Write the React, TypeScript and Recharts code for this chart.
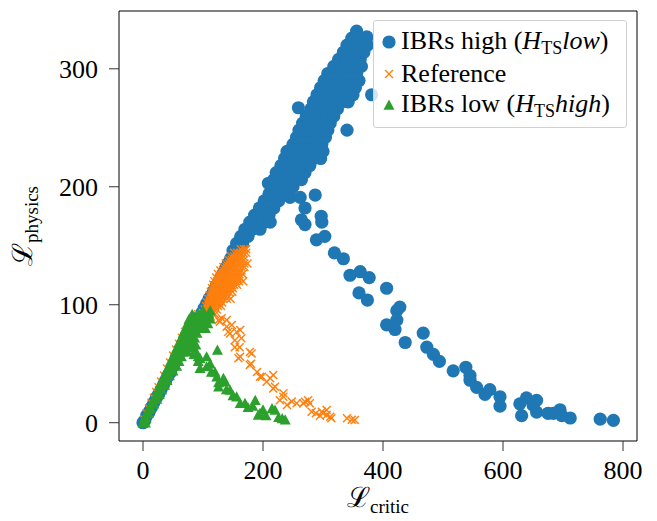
import React from 'react';
import { ScatterChart, Scatter, XAxis, YAxis, ReferenceArea } from 'recharts';

const FONT = '"Liberation Serif", "Times New Roman", Times, serif';
const BLUE = '#1f77b4';
const ORANGE = '#ff7f0e';
const GREEN = '#2ca02c';

const xTicks = [0, 200, 400, 600, 800];
const yTicks = [0, 100, 200, 300];
const xDomain: [number, number] = [-40, 823.3];
const yDomain: [number, number] = [-15.5, 349];

const seriesNames = ['IBRs high', 'Reference', 'IBRs low'];

// IBRs high: lower narrow band [x, y]
const blueLow: [number, number][] = [
  [0, 0], [3, 2], [6, 6], [10, 9], [14, 13], [18, 17], [22, 21], [26, 24], [30, 28], [34, 32],
  [38, 36], [42, 40], [46, 43], [50, 48], [54, 52], [58, 56], [62, 60], [66, 63], [70, 67], [74, 71],
  [78, 75], [82, 78], [86, 82], [90, 86], [94, 90], [98, 93], [102, 97], [106, 101], [110, 105], [114, 108],
  [118, 112], [122, 116], [126, 119], [130, 123], [134, 127], [138, 131], [142, 135], [146, 139], [150, 142],
];
// IBRs high: upper wide band, rows of [y, x values]
const blueBandRows: [number, number[]][] = [
  [146, [150, 158]], [152, [156, 166]], [158, [163, 175]], [164, [170, 182, 195]],
  [170, [178, 190, 202, 212]], [176, [186, 198, 210]], [182, [194, 206, 218]], [188, [202, 214, 226]],
  [194, [210, 222, 234]], [200, [214, 226, 238, 250]], [206, [218, 230, 242, 254, 264]],
  [212, [222, 234, 246, 258, 270]], [218, [230, 242, 254, 266, 278]], [224, [236, 248, 260, 272, 284, 296]],
  [230, [240, 252, 264, 276, 288, 300]], [236, [250, 262, 274, 286, 298]], [242, [256, 268, 280, 292, 304]],
  [248, [260, 272, 284, 296, 308]], [254, [266, 278, 290, 302, 312]], [260, [272, 284, 296, 308, 318]],
  [266, [280, 292, 304, 316, 324]], [272, [284, 296, 308, 320, 332, 342]], [278, [290, 302, 314, 326, 338, 350]],
  [284, [296, 308, 320, 332, 344, 354]], [290, [302, 314, 326, 338, 350, 360]], [296, [308, 320, 332, 344, 356]],
  [302, [318, 330, 342, 354, 364]], [308, [326, 338, 350, 362]], [314, [334, 346, 358, 368]],
  [320, [340, 352, 364, 374]], [326, [348, 360, 372]], [332, [356]],
];
// IBRs high: outliers and descending tail [x, y]
const blueTail: [number, number][] = [
  [259, 267], [340, 248], [381, 278], [373, 327], [209, 203],
  [245, 191], [262, 191], [287, 193], [270, 182], [270, 168], [264, 172], [297, 175], [298, 170],
  [289, 155], [303, 158], [319, 144], [334, 139], [345, 125], [362, 128], [377, 123], [360, 110],
  [374, 104], [406, 114], [423, 95], [428, 98], [423, 87], [406, 83], [420, 79], [437, 68],
  [467, 76], [473, 64], [484, 58], [494, 52], [517, 44], [538, 47], [545, 40], [545, 36],
  [556, 30], [570, 24], [578, 28], [595, 22], [595, 14], [628, 16], [631, 6], [639, 21],
  [650, 15], [656, 19], [656, 9], [675, 8], [684, 8], [695, 11], [698, 6], [712, 4],
  [762, 3], [784, 2],
];

// Reference: lower line and dense cluster
const orangeLow: [number, number][] = [
  [2, 3], [6, 8], [10, 12], [14, 17], [18, 21], [22, 26], [26, 30], [30, 35], [35, 40], [40, 46],
  [45, 51], [50, 57], [55, 62], [60, 67], [65, 72], [70, 77], [75, 81], [80, 85], [86, 89], [92, 92],
];
const orangeBandRows: [number, number[]][] = [
  [147, [163, 168, 172]],
  [144, [152, 157, 162, 167, 172]],
  [141, [147, 152, 157, 162, 167]],
  [138, [143, 148, 153, 158, 163, 168]],
  [135, [138, 143, 148, 153, 158, 163, 169, 174]],
  [132, [134, 139, 144, 149, 154, 159, 164, 169]],
  [129, [129, 134, 139, 144, 149, 154, 159, 164]],
  [126, [125, 130, 135, 140, 145, 150, 155, 160, 166]],
  [123, [122, 127, 132, 137, 142, 147, 152, 157, 162]],
  [120, [119, 124, 129, 134, 139, 144, 149, 154, 160, 167]],
  [117, [117, 122, 127, 132, 137, 142, 147, 152, 157]],
  [114, [115, 120, 125, 130, 135, 140, 145, 150]],
  [111, [113, 118, 123, 128, 133, 138, 143, 149]],
  [108, [111, 116, 121, 126, 131, 136, 141]],
  [105, [109, 114, 119, 124, 129, 134, 140, 146]],
  [102, [107, 112, 117, 122, 127, 132]],
  [99, [105, 110, 115, 120, 125, 130]],
  [96, [103, 108, 113, 118, 123]],
  [93, [100, 105, 110, 115]],
  [90, [98, 103, 108, 113]],
];
const orangeTail: [number, number][] = [
  [353, 2.3], [348, 2.5], [340, 3.7], [314, 3.7], [312, 5], [306, 6.5], [300, 8], [298, 9.3], [306, 10.8],
  [295, 6], [288, 8], [281, 9.3], [278, 16.4], [275, 19], [270, 17.8], [267, 16.4], [256, 16.4], [248, 18],
  [240, 15], [234, 22], [234, 25], [228, 19], [220, 30.5], [217, 29], [217, 40.4], [212, 37.6], [206, 34.7],
  [198, 39], [195, 39], [190, 43], [180, 50], [178, 49], [181, 58.7], [178, 60], [162, 56], [159, 54.6],
  [161, 64], [153, 64], [153, 70], [164, 71.5], [162, 78.6], [156, 77], [145, 75.7], [142, 77], [139.5, 81.4],
  [148, 82.8], [139.5, 87], [131, 88.5], [128, 85.6], [126, 87], [120, 92], [115, 95],
];

// IBRs low: wedge rows of [y, x values] and tail
const greenBandRows: [number, number[]][] = [
  [0, [0, 4]], [4, [2, 5]], [8, [6, 9]], [12, [10, 13]], [16, [14, 18]], [20, [18, 23]], [24, [22, 27]],
  [28, [25, 31]], [32, [28, 36]], [36, [32, 40]], [40, [36, 44]], [44, [39, 45, 50]], [48, [43, 50, 56]],
  [52, [46, 53, 60]], [56, [50, 57, 64]], [60, [53, 60, 67, 74]], [64, [57, 64, 71, 78]], [68, [60, 67, 74, 82]],
  [72, [64, 71, 78, 86]], [76, [67, 74, 81, 90]], [80, [71, 78, 86, 95, 104]], [84, [74, 82, 90, 98, 108]],
  [88, [77, 85, 94, 104, 112]], [92, [82, 92, 100, 110]], [95, [100, 112]],
];
const greenTail: [number, number][] = [
  [237, 2.5], [232, 3.5], [226, 4.5], [220, 10.8], [215, 12], [205, 6], [200, 11], [195, 8], [192, 6.5],
  [187, 19], [183, 14], [175, 13], [170, 16.4], [162, 16.4], [156, 22], [150, 23], [145, 27.7], [139, 28],
  [137, 34.7], [134, 37.6], [126, 30.5], [126, 34], [123, 39], [120, 43], [114, 43], [112, 50], [106, 47.5],
  [106, 56], [124, 61.6], [95, 46], [92, 56], [95, 54.6], [87, 61.6], [88, 66], [92, 52], [85, 58],
];

const fromPairs = (pairs: [number, number][]) => pairs.map(([x, y]) => ({ x, y }));
const fromRows = (rows: [number, number[]][]) =>
  rows.flatMap(([y, xs]) => xs.map((x) => ({ x, y })));

const blueData = [...fromPairs(blueLow), ...fromRows(blueBandRows), ...fromPairs(blueTail)];
const orangeData = [...fromPairs(orangeLow), ...fromRows(orangeBandRows), ...fromPairs(orangeTail)];
const greenData = [...fromRows(greenBandRows), ...fromPairs(greenTail)];

const Dot = (p: any) => <circle cx={p.cx} cy={p.cy} r={6.6} fill={BLUE} />;
const Cross = (p: any) => {
  const s = 4;
  return (
    <g stroke={ORANGE} strokeWidth={1.4}>
      <line x1={p.cx - s} y1={p.cy - s} x2={p.cx + s} y2={p.cy + s} />
      <line x1={p.cx - s} y1={p.cy + s} x2={p.cx + s} y2={p.cy - s} />
    </g>
  );
};
const Tri = (p: any) => {
  const s = 5.5;
  return (
    <polygon
      points={`${p.cx},${p.cy - s} ${p.cx - s},${p.cy + s * 0.85} ${p.cx + s},${p.cy + s * 0.85}`}
      fill={GREEN}
    />
  );
};

const YTick = (p: any) => (
  <text x={98} y={p.y} dy="0.355em" textAnchor="end" fontFamily={FONT} fontSize={26} fill="#000">
    {p.payload.value}
  </text>
);
const XTick = (p: any) => (
  <text x={p.x} y={461} dy="0.71em" textAnchor="middle" fontFamily={FONT} fontSize={26} fill="#000">
    {p.payload.value}
  </text>
);

const YLabel = () => (
  <text transform="translate(32,226) rotate(-90)" textAnchor="middle" fontFamily={FONT} fill="#000">
    <tspan fontSize={28}>ℒ</tspan>
    <tspan fontSize={19} dy={6}>physics</tspan>
  </text>
);
const XLabel = () => (
  <text x={378} y={507} textAnchor="middle" fontFamily={FONT} fill="#000">
    <tspan fontSize={28}>ℒ</tspan>
    <tspan fontSize={19} dy={6}>critic</tspan>
  </text>
);

const legendRow = (top: number, marker: React.ReactNode, content: React.ReactNode) => (
  <div style={{ position: 'absolute', left: 0, top, height: 32, width: '100%', display: 'flex', alignItems: 'center' }}>
    <svg width={27} height={32} style={{ flex: 'none' }}>{marker}</svg>
    <span style={{ whiteSpace: 'nowrap', lineHeight: '32px' }}>{content}</span>
  </div>
);

const Sub = ({ children }: { children: React.ReactNode }) => (
  <span style={{ fontSize: 18, position: 'relative', top: 5 }}>{children}</span>
);

const ChartLegend = () => (
  <div
    style={{
      position: 'absolute', left: 373, top: 20, width: 254, height: 108, boxSizing: 'border-box',
      border: '1px solid #d0d0d0', borderRadius: 3, background: 'rgba(255,255,255,0.8)',
      fontFamily: FONT, fontSize: 26, color: '#000',
    }}
  >
    {legendRow(5, <circle cx={15} cy={16} r={6.6} fill={BLUE} />,
      <>{seriesNames[0]} (<i>H</i><Sub>TS</Sub><i>low</i>)</>)}
    {legendRow(37, <g stroke={ORANGE} strokeWidth={1.2}><line x1={11} y1={12} x2={19} y2={20} /><line x1={11} y1={20} x2={19} y2={12} /></g>,
      <>{seriesNames[1]}</>)}
    {legendRow(68, <polygon points="15,10.5 9.5,20.7 20.5,20.7" fill={GREEN} />,
      <>{seriesNames[2]} (<i>H</i><Sub>TS</Sub><i>high</i>)</>)}
  </div>
);

export default function App() {
  return (
    <div style={{ position: 'absolute', left: 0, top: 0, width: 657, height: 521, background: '#fff' }}>
      <ScatterChart width={657} height={521} margin={{ top: 11, right: 20, bottom: 0, left: 0 }}>
        <XAxis
          type="number" dataKey="x" domain={xDomain} ticks={xTicks} allowDataOverflow
          height={80} axisLine={false} tickSize={10}
          tickLine={{ stroke: '#333' }} tick={XTick}
        />
        <YAxis
          type="number" dataKey="y" domain={yDomain} ticks={yTicks} allowDataOverflow
          width={119} axisLine={false} tickSize={10}
          tickLine={{ stroke: '#333' }} tick={YTick}
        />
        <Scatter name="IBRs high" data={blueData} shape={Dot} isAnimationActive={false} />
        <Scatter name="Reference" data={orangeData} shape={Cross} isAnimationActive={false} />
        <Scatter name="IBRs low" data={greenData} shape={Tri} isAnimationActive={false} />
        <ReferenceArea x1={xDomain[0]} x2={xDomain[1]} y1={yDomain[0]} y2={yDomain[1]} fill="none" stroke="#000" strokeWidth={1} />
      </ScatterChart>
      <svg width={657} height={521} style={{ position: 'absolute', left: 0, top: 0, pointerEvents: 'none' }}>
        <YLabel />
        <XLabel />
      </svg>
      <ChartLegend />
    </div>
  );
}
